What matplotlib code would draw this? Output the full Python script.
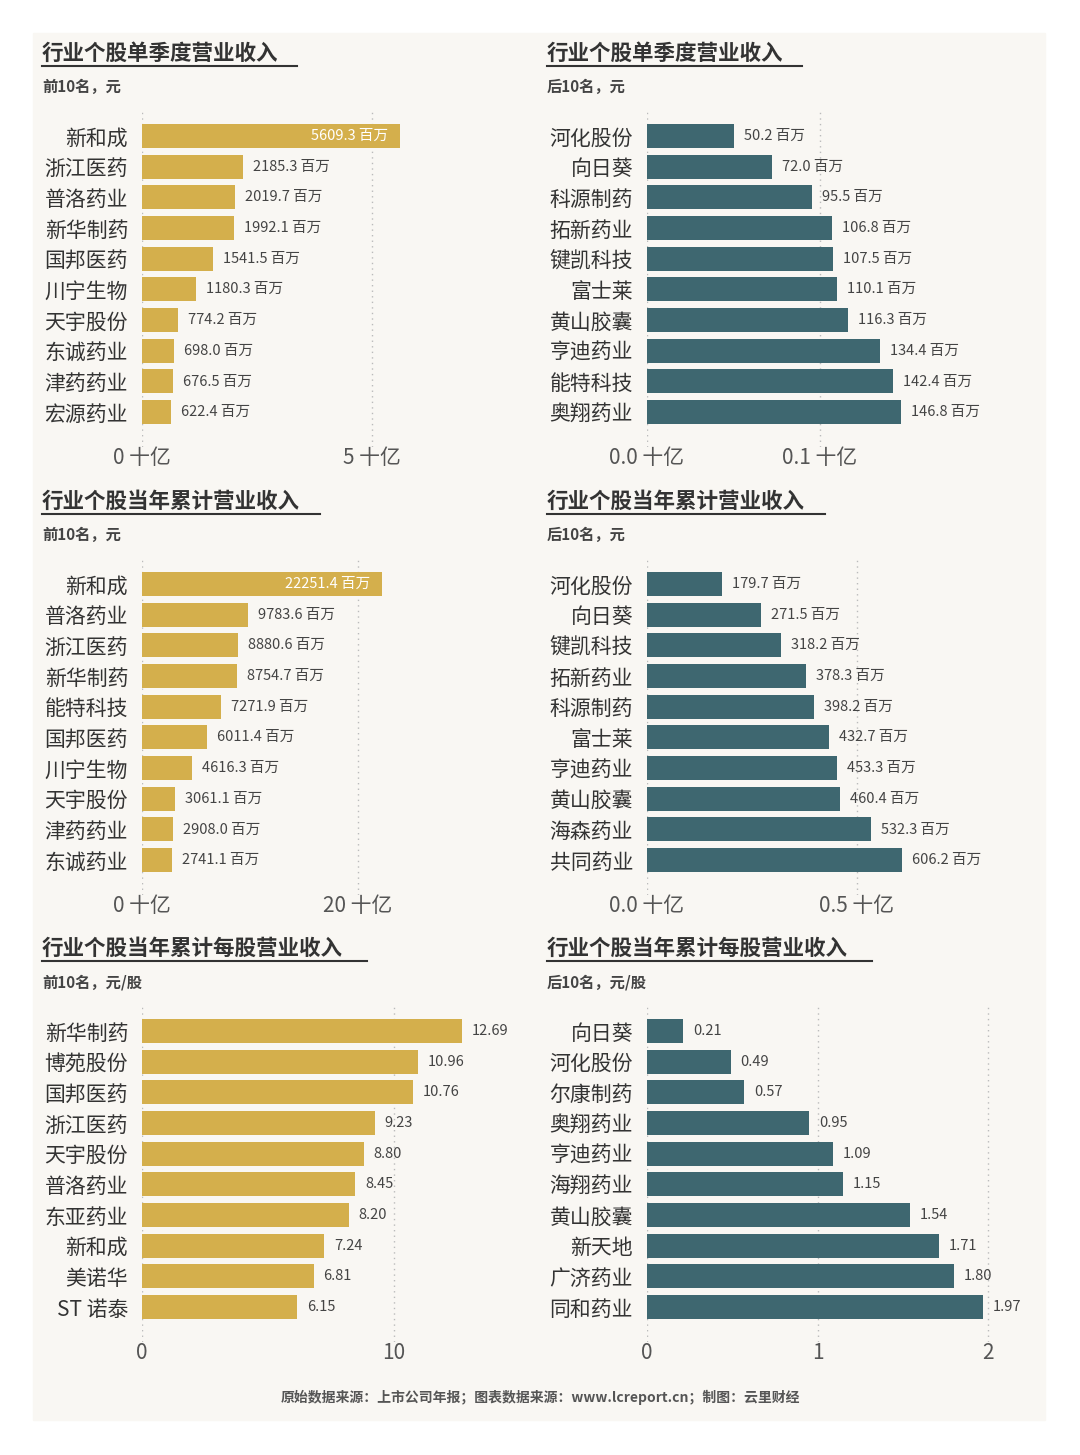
import matplotlib
matplotlib.use('Agg')
import matplotlib.pyplot as plt
from matplotlib.patches import Rectangle

plt.rcParams['font.family'] = ['Noto Sans CJK SC', 'DejaVu Sans']

GOLD = '#d4af4c'
TEAL = '#3e6770'
BG = '#f9f7f3'
TXT = '#444444'

# quarter revenue, million yuan
q_top_names = ['新和成', '浙江医药', '普洛药业', '新华制药', '国邦医药', '川宁生物', '天宇股份', '东诚药业', '津药药业', '宏源药业']
q_top_vals = [5609.3, 2185.3, 2019.7, 1992.1, 1541.5, 1180.3, 774.2, 698.0, 676.5, 622.4]
q_bot_names = ['河化股份', '向日葵', '科源制药', '拓新药业', '键凯科技', '富士莱', '黄山胶囊', '亨迪药业', '能特科技', '奥翔药业']
q_bot_vals = [50.2, 72.0, 95.5, 106.8, 107.5, 110.1, 116.3, 134.4, 142.4, 146.8]

# year-to-date revenue, million yuan
y_top_names = ['新和成', '普洛药业', '浙江医药', '新华制药', '能特科技', '国邦医药', '川宁生物', '天宇股份', '津药药业', '东诚药业']
y_top_vals = [22251.4, 9783.6, 8880.6, 8754.7, 7271.9, 6011.4, 4616.3, 3061.1, 2908.0, 2741.1]
y_bot_names = ['河化股份', '向日葵', '键凯科技', '拓新药业', '科源制药', '富士莱', '亨迪药业', '黄山胶囊', '海森药业', '共同药业']
y_bot_vals = [179.7, 271.5, 318.2, 378.3, 398.2, 432.7, 453.3, 460.4, 532.3, 606.2]

# per-share revenue, yuan
p_top_names = ['新华制药', '博苑股份', '国邦医药', '浙江医药', '天宇股份', '普洛药业', '东亚药业', '新和成', '美诺华', 'ST 诺泰']
p_top_vals = [12.69, 10.96, 10.76, 9.23, 8.80, 8.45, 8.20, 7.24, 6.81, 6.15]
p_bot_names = ['向日葵', '河化股份', '尔康制药', '奥翔药业', '亨迪药业', '海翔药业', '黄山胶囊', '新天地', '广济药业', '同和药业']
p_bot_vals = [0.21, 0.49, 0.57, 0.95, 1.09, 1.15, 1.54, 1.71, 1.80, 1.97]

W, H = 1080, 1455
fig = plt.figure(figsize=(W / 100, H / 100), dpi=100)
fig.patch.set_facecolor('white')
fig.patches.append(Rectangle((33 / W, 1 - 1420 / H), 1012 / W, 1387 / H,
                             transform=fig.transFigure, color=BG, zorder=-10))


def panel(x0, c0, ppu, names, vals, scale, ticks, ticklabels, color, fmt,
          title, sub, inside_first):
    s = 30.67
    top = c0 - 0.5 * s - 12
    bot = c0 + 9 * s + 0.5 * s + 20
    width = 380
    ax = fig.add_axes([x0 / W, 1 - bot / H, width / W, (bot - top) / H])
    ax.set_facecolor('none')
    ax.set_xlim(0, width / ppu)
    ax.set_ylim(9.5 + 20 / s, -0.5 - 12 / s)
    v = [x / scale for x in vals]
    ax.barh(range(10), v, height=0.78, color=color, zorder=2)
    for t in ticks:
        ax.axvline(t, color='#bbbbbb', ls=(0, (1, 3)), lw=1, zorder=1)
    for i, (val, raw) in enumerate(zip(v, vals)):
        label = fmt(raw)
        if i == 0 and inside_first:
            ax.text(val - 12 / ppu, i, label, ha='right', va='center',
                    color='white', fontsize=10.5)
        else:
            ax.text(val + 10 / ppu, i, label, ha='left', va='center',
                    color=TXT, fontsize=10.5)
    ax.set_yticks(range(10))
    ax.set_yticklabels(names, fontsize=15, color='#333333')
    ax.set_xticks(ticks)
    ax.set_xticklabels(ticklabels, fontsize=15, color='#555555')
    ax.tick_params(length=0, axis='y', pad=10)
    ax.tick_params(length=0, axis='x', pad=0)
    for sp in ax.spines.values():
        sp.set_visible(False)
    tx = x0 - 100
    ty = c0 - 83
    fig.text(tx / W, 1 - ty / H, title, fontsize=15.5, fontweight='bold',
             color='#333333', ha='left', va='center')
    tw = {'行业个股单季度营业收入': 255, '行业个股当年累计营业收入': 278,
          '行业个股当年累计每股营业收入': 325}[title]
    fig.add_artist(plt.Line2D([tx / W, (tx + tw) / W],
                              [1 - (ty + 13) / H] * 2, color='#333333', lw=1.5))
    fig.text(tx / W, 1 - (c0 - 49) / H, sub, fontsize=11, fontweight='bold',
             color='#444444', ha='left', va='center')


mil = lambda x: f'{x:.1f} 百万'
per = lambda x: f'{x:.2f}'

panel(142, 136, 46, q_top_names, q_top_vals, 1000, [0, 5], ['0 十亿', '5 十亿'],
      GOLD, mil, '行业个股单季度营业收入', '前10名，元', True)
panel(647, 136, 1730, q_bot_names, q_bot_vals, 1000, [0, 0.1], ['0.0 十亿', '0.1 十亿'],
      TEAL, mil, '行业个股单季度营业收入', '后10名，元', False)
panel(142, 584, 10.8, y_top_names, y_top_vals, 1000, [0, 20], ['0 十亿', '20 十亿'],
      GOLD, mil, '行业个股当年累计营业收入', '前10名，元', True)
panel(647, 584, 420, y_bot_names, y_bot_vals, 1000, [0, 0.5], ['0.0 十亿', '0.5 十亿'],
      TEAL, mil, '行业个股当年累计营业收入', '后10名，元', False)
panel(142, 1031, 25.2, p_top_names, p_top_vals, 1, [0, 10], ['0', '10'],
      GOLD, per, '行业个股当年累计每股营业收入', '前10名，元/股', False)
panel(647, 1031, 170.5, p_bot_names, p_bot_vals, 1, [0, 1, 2], ['0', '1', '2'],
      TEAL, per, '行业个股当年累计每股营业收入', '后10名，元/股', False)

fig.text(540 / W, 1 - 1397 / H,
         '原始数据来源：上市公司年报；图表数据来源：www.lcreport.cn；制图：云里财经',
         fontsize=10, fontweight='bold', color='#555555', ha='center', va='center')

fig.savefig('out.png', dpi=100, facecolor=fig.get_facecolor())
